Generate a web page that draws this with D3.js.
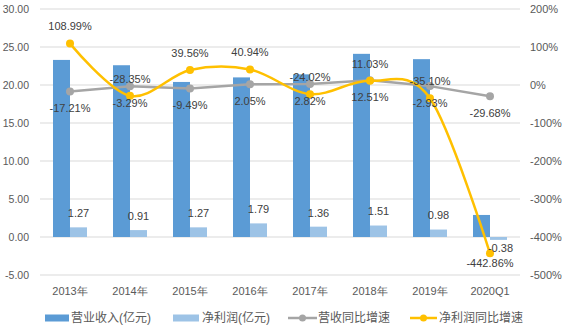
<!DOCTYPE html>
<html>
<head>
<meta charset="utf-8">
<script src="https://cdn.jsdelivr.net/npm/d3@7"></script>
<style>
html,body{margin:0;padding:0;background:#fff;}
svg{display:block;font-family:"Liberation Sans","Noto Sans CJK SC",sans-serif;}
</style>
</head>
<body>
<svg id="chart" width="566" height="332"></svg>
<script>
const categories = ["2013年","2014年","2015年","2016年","2017年","2018年","2019年","2020Q1"];
const revenue = [23.3, 22.6, 20.4, 21.0, 21.4, 24.1, 23.4, 2.9];
const netProfit = [1.27, 0.91, 1.27, 1.79, 1.36, 1.51, 0.98, -0.38];
const revenueGrowth = [-17.21, -3.29, -9.49, 2.05, 2.82, 12.51, -2.93, -29.68];
const profitGrowth = [108.99, -28.35, 39.56, 40.94, -24.02, 11.03, -35.10, -442.86];
const leftTicks = [-5, 0, 5, 10, 15, 20, 25, 30];
const rightTicks = [-500, -400, -300, -200, -100, 0, 100, 200];
const seriesNames = ["营业收入(亿元)", "净利润(亿元)", "营收同比增速", "净利润同比增速"];

const colors = {rev:"#5B9BD5", np:"#9DC3E6", rg:"#A5A5A5", pg:"#FFC000", grid:"#D9D9D9", axis:"#595959", label:"#404040"};

const loc = d3.formatLocale({decimal: ".", thousands: ",", grouping: [3], currency: ["", ""], minus: "-"});
const f2 = loc.format(".2f");

const svg = d3.select("#chart");
const pL = 40, pR = 520, pT = 9, pB = 275;

const x = d3.scaleBand().domain(categories).range([pL, pR]).paddingInner(0.4333).paddingOuter(0.21667);
const xs = d3.scaleBand().domain(["rev","np"]).range([0, x.bandwidth()]);
const yL = d3.scaleLinear().domain([-5, 30]).range([pB, pT]);
const yR = d3.scaleLinear().domain([-500, 200]).range([pB, pT]);
const cx = c => x(c) + x.bandwidth() / 2;

// gridlines
svg.append("g").selectAll("line").data(leftTicks).join("line")
  .attr("x1", pL).attr("x2", pR)
  .attr("y1", d => yL(d)).attr("y2", d => yL(d))
  .attr("stroke", colors.grid).attr("stroke-width", 1);

// left axis
const gl = svg.append("g").attr("transform", `translate(${pL},0)`)
  .call(d3.axisLeft(yL).tickValues(leftTicks).tickSize(0).tickPadding(11).tickFormat(f2));
gl.select(".domain").remove();
gl.selectAll("text").attr("fill", colors.axis).style("font-size", "10.5px");

// right axis
const gr = svg.append("g").attr("transform", `translate(${pR},0)`)
  .call(d3.axisRight(yR).tickValues(rightTicks).tickSize(0).tickPadding(10).tickFormat(d => loc.format("d")(d) + "%"));
gr.select(".domain").remove();
gr.selectAll("text").attr("fill", colors.axis).style("font-size", "11px");

// x axis labels
const gx = svg.append("g").attr("transform", `translate(0,${pB})`)
  .call(d3.axisBottom(x).tickSize(0).tickPadding(12));
gx.select(".domain").remove();
gx.selectAll("text").attr("fill", colors.axis).style("font-size", "11px");

// bars
const bars = svg.append("g");
bars.selectAll("rect.rev").data(categories).join("rect").attr("class", "rev")
  .attr("x", c => x(c) + xs("rev")).attr("width", xs.bandwidth())
  .attr("y", (c, i) => yL(Math.max(0, revenue[i])))
  .attr("height", (c, i) => Math.abs(yL(revenue[i]) - yL(0)))
  .attr("fill", colors.rev);
bars.selectAll("rect.np").data(categories).join("rect").attr("class", "np")
  .attr("x", c => x(c) + xs("np")).attr("width", xs.bandwidth())
  .attr("y", (c, i) => yL(Math.max(0, netProfit[i])))
  .attr("height", (c, i) => Math.abs(yL(netProfit[i]) - yL(0)))
  .attr("fill", colors.np);

// revenue growth line (straight)
const lineR = d3.line().x((d, i) => cx(categories[i])).y(d => yR(d));
svg.append("path").datum(revenueGrowth).attr("d", lineR)
  .attr("fill", "none").attr("stroke", colors.rg).attr("stroke-width", 2.5).attr("stroke-linejoin", "round");
svg.append("g").selectAll("circle").data(revenueGrowth).join("circle")
  .attr("cx", (d, i) => cx(categories[i])).attr("cy", d => yR(d)).attr("r", 4).attr("fill", colors.rg);

// profit growth line (smooth)
const lineP = d3.line().x((d, i) => cx(categories[i])).y(d => yR(d)).curve(d3.curveCardinal.tension(0));
svg.append("path").datum(profitGrowth).attr("d", lineP)
  .attr("fill", "none").attr("stroke", colors.pg).attr("stroke-width", 2.5);
svg.append("g").selectAll("circle").data(profitGrowth).join("circle")
  .attr("cx", (d, i) => cx(categories[i])).attr("cy", d => yR(d)).attr("r", 4).attr("fill", colors.pg);

// net profit labels
svg.append("g").selectAll("text").data(categories).join("text")
  .attr("x", (c, i) => x(c) + xs("np") + xs.bandwidth() / 2 + (netProfit[i] < 0 ? 2 : 0))
  .attr("y", (c, i) => netProfit[i] >= 0 ? yL(netProfit[i]) - 14 : yL(netProfit[i]) + 8)
  .attr("dy", "0.35em").attr("text-anchor", "middle")
  .attr("fill", colors.label).style("font-size", "11px")
  .text((c, i) => f2(netProfit[i]));

// growth labels
const pct = d => f2(d) + "%";
svg.append("g").selectAll("text").data(revenueGrowth).join("text")
  .attr("x", (d, i) => cx(categories[i]))
  .attr("y", d => yR(d) + 17).attr("dy", "0.35em").attr("text-anchor", "middle")
  .attr("fill", colors.label).style("font-size", "11px").text(pct);
svg.append("g").selectAll("text").data(profitGrowth).join("text")
  .attr("x", (d, i) => cx(categories[i]))
  .attr("y", d => d < -400 ? yR(d) + 10 : yR(d) - 17).attr("dy", "0.35em").attr("text-anchor", "middle")
  .attr("fill", colors.label).style("font-size", "11px").text(pct);

// legend
const ly = 318;
const leg = svg.append("g").style("font-size", "12px");
const items = [
  {name: seriesNames[0], type: "rect", color: colors.rev, x0: 45, x1: 69, tx: 71},
  {name: seriesNames[1], type: "rect", color: colors.np, x0: 173, x1: 199, tx: 202},
  {name: seriesNames[2], type: "line", color: colors.rg, x0: 288, x1: 317, tx: 318},
  {name: seriesNames[3], type: "line", color: colors.pg, x0: 410, x1: 437, tx: 439}
];
items.forEach(it => {
  if (it.type === "rect") {
    leg.append("rect").attr("x", it.x0).attr("y", ly - 3.5).attr("width", it.x1 - it.x0).attr("height", 7).attr("fill", it.color);
  } else {
    leg.append("line").attr("x1", it.x0).attr("x2", it.x1).attr("y1", ly).attr("y2", ly)
      .attr("stroke", it.color).attr("stroke-width", 2.5);
    leg.append("circle").attr("cx", (it.x0 + it.x1) / 2).attr("cy", ly).attr("r", 3.5).attr("fill", it.color);
  }
  leg.append("text").attr("x", it.tx).attr("y", ly).attr("dy", "0.35em")
    .attr("fill", colors.axis).text(it.name);
});
</script>
</body>
</html>
